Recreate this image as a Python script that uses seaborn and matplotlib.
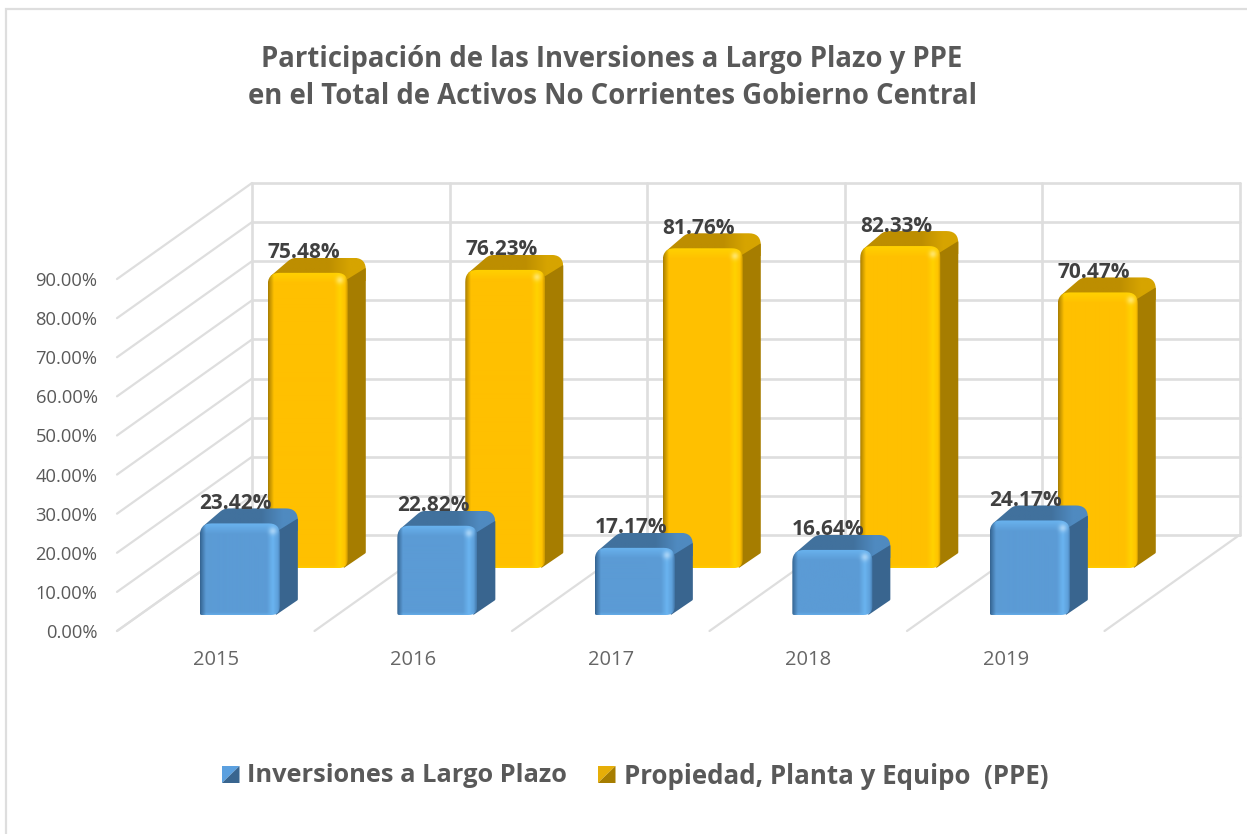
"""
3D look column chart: Inversiones a Largo Plazo vs PPE, Gobierno Central.
"""
import numpy as np
import pandas as pd
import matplotlib
matplotlib.use('Agg')
import matplotlib.pyplot as plt
import seaborn as sns
from matplotlib.patches import Polygon, Rectangle
from matplotlib.ticker import FormatStrFormatter
from matplotlib.transforms import IdentityTransform

years = ['2015', '2016', '2017', '2018', '2019']
inversiones = [23.42, 22.82, 17.17, 16.64, 24.17]
ppe = [75.48, 76.23, 81.76, 82.33, 70.47]
series_names = ['Inversiones a Largo Plazo', 'Propiedad, Planta y Equipo  (PPE)']
y_ticks = [0, 10, 20, 30, 40, 50, 60, 70, 80, 90]
title_lines = ['Participación de las Inversiones a Largo Plazo y PPE',
               'en el Total de Activos No Corrientes Gobierno Central']

W, H = 1247, 834
GRID = '#DEDEDE'
TEXT = '#595959'
# back wall depth, in axis units
WALL_DX = 135 / 197.5
WALL_DY = 96 / 3.91
# how far each series sits inside the box (x units, y units)
SERIES_SHIFT = [(0.122, 4.09), (0.466, 16.1)]
STYLES = [
    dict(base='#5B9BD5', dark='#33628F', light='#6AB4F0', side='#39658F',
         top='#41719D', corner='#4F8AC0', key='#5BA0DF'),
    dict(base='#FFC000', dark='#A67C00', light='#FFD200', side='#A67D00',
         top='#BD8E00', corner='#D6A400', key='#E6AE08'),
]

sns.set_theme(style='white')
plt.rcParams['font.family'] = ['Open Sans', 'DejaVu Sans']


def rgb(c):
    return np.array(matplotlib.colors.to_rgb(c))


def rounded(points, radii):
    # polygon with its corners rounded, radius given per vertex
    points = np.asarray(points, dtype=float)
    out = []
    n = len(points)
    for i in range(n):
        p, a, b = points[i], points[i - 1], points[(i + 1) % n]
        r = radii[i]
        if r == 0:
            out.append(p)
            continue
        p1 = p + (a - p) / np.linalg.norm(a - p) * r
        p2 = p + (b - p) / np.linalg.norm(b - p) * r
        for t in np.linspace(0, 1, 9):
            out.append((1 - t) ** 2 * p1 + 2 * t * (1 - t) * p + t ** 2 * p2)
    return np.array(out)


def front_shading(w, h, st):
    # bevelled face of the column: dark left edge, bright right and top bands
    xp = np.arange(w)[None, :] + 0.5
    yp = np.arange(h)[:, None] + 0.5
    base, dark, light = rgb(st['base']), rgb(st['dark']), rgb(st['light'])
    img = np.ones((h, w, 3)) * base
    mix = lambda im, col, a: im * (1 - a[..., None]) + col * a[..., None]
    img = mix(img, light, np.clip(1 - np.abs(xp - (w - 8)) / 6, 0, 1) * np.ones((h, w)))
    img = mix(img, light, np.clip(1 - yp / 11, 0, 1) * np.ones((h, w)))
    img = mix(img, light, np.clip(1 - (h - yp) / 3, 0, 1) * np.ones((h, w)) * 0.7)
    img = mix(img, dark, np.clip(1 - xp / 6, 0, 1) * np.ones((h, w)))
    img = mix(img, dark, np.clip(1 - (w - xp) / 3, 0, 1) * np.ones((h, w)) * 0.6)
    spot = np.exp(-((xp - (w - 8)) ** 2 + (yp - 8) ** 2) / 14)
    img = mix(img, np.array([1, 1, 1.0]) * 0.5 + light * 0.5, spot * 0.8)
    return np.clip(img, 0, 1)


def draw_column(ax, patch, st, z):
    x0, y0 = ax.transData.transform((patch.get_x(), patch.get_y()))
    x1, y1 = ax.transData.transform((patch.get_x() + patch.get_width(),
                                     patch.get_y() + patch.get_height()))
    dx, dy = 18, 15
    idt = IdentityTransform()
    outline = [(x0 + 3, y1 - 3), (x0 + dx + 6, y1 + dy), (x1 + dx, y1 + dy),
               (x1 + dx, y0 + dy), (x1 - 4, y0)]
    top = Polygon(rounded(outline, [0, 5, 12, 1, 0]), closed=True, fc='none', ec='none',
                  transform=idt, zorder=z, clip_on=False)
    ax.add_patch(top)
    # top face brightens toward its far right corner
    ramp = np.clip((np.linspace(0, 1, 60) - 0.62) / 0.22, 0, 1)[None, :, None]
    grad = rgb(st['top'])[None, None, :] * (1 - ramp) + rgb(st['corner'])[None, None, :] * ramp
    im = ax.imshow(grad, extent=(x0, x1 + dx, y1 - 8, y1 + dy), aspect='auto',
                   transform=idt, zorder=z, interpolation='bilinear')
    im.set_clip_path(top)
    side = [(x1 - 3, y1 - 8), (x1 + dx, y1 + 5), (x1 + dx, y0 + dy), (x1 - 4, y0)]
    ax.add_patch(Polygon(rounded(side, [0, 1, 1, 0]), closed=True, fc=st['side'],
                         ec='none', transform=idt, zorder=z + 0.2, clip_on=False))
    face_pts = [(x0, y0), (x1, y0), (x1, y1), (x0, y1)]
    face = Polygon(rounded(face_pts, [2, 9, 11, 12]), closed=True, fc='none', ec='none',
                   transform=idt, zorder=z + 0.3, clip_on=False)
    ax.add_patch(face)
    w, h = int(round(x1 - x0)), int(round(y1 - y0))
    im = ax.imshow(front_shading(w, h, st), extent=(x0, x1, y0, y1), aspect='auto',
                   transform=idt, zorder=z + 0.3, interpolation='bilinear')
    im.set_clip_path(face)


fig = plt.figure(figsize=(W / 100, H / 100), dpi=100)
ax = fig.add_axes([117 / W, (H - 631) / H, (5 * 197.5 + 135) / W, (631 - 183) / H])

df = pd.DataFrame({
    'year': years * 2,
    'value': inversiones + ppe,
    'series': [series_names[0]] * 5 + [series_names[1]] * 5,
})
sns.barplot(data=df, x='year', y='value', hue='series', hue_order=series_names,
            dodge=False, width=80 / 197.5, legend=False, ax=ax,
            palette=[STYLES[0]['base'], STYLES[1]['base']])

ax.set_xlim(-0.5, 4.5 + WALL_DX)
ax.set_ylim(0, 90 + WALL_DY)
ax.set_xlabel('')
ax.set_ylabel('')
sns.despine(ax=ax, left=True, bottom=True)
ax.patch.set_alpha(0)
ax.set_yticks(y_ticks)
ax.yaxis.set_major_formatter(FormatStrFormatter('%.2f%%'))
ax.tick_params(axis='y', length=0, pad=14, labelsize=13.2, labelcolor=TEXT)
ax.tick_params(axis='x', length=0, pad=14, labelsize=14.5, labelcolor='#666666')

# box: left wall, back wall and floor lines
for v in y_ticks:
    ax.plot([-0.5, -0.5 + WALL_DX], [v, v + WALL_DY], color=GRID, lw=1.6, zorder=1, clip_on=False)
    ax.plot([-0.5 + WALL_DX, 4.5 + WALL_DX], [v + WALL_DY] * 2, color=GRID, lw=1.9, zorder=1, clip_on=False)
for i in range(len(years) + 1):
    ax.plot([i - 0.5 + WALL_DX] * 2, [WALL_DY, 90 + WALL_DY], color=GRID, lw=1.9, zorder=1, clip_on=False)
    ax.plot([i - 0.5, i - 0.5 + WALL_DX], [0, WALL_DY], color=GRID, lw=1.6, zorder=1, clip_on=False)

# seaborn bars are moved into the box, then dressed as 3D columns
bars = list(ax.patches)
n = len(years)
for s, (shift_x, shift_y) in enumerate(SERIES_SHIFT):
    for j in range(n):
        bar = bars[s * n + j]
        bar.set_x(bar.get_x() + shift_x)
        bar.set_y(shift_y)
        bar.set_visible(False)
        draw_column(ax, bar, STYLES[s], 10 - s * 5 + j * 0.5)
        ax.annotate(f'{bar.get_height():.2f}%',
                    (bar.get_x() + bar.get_width() / 2, shift_y + bar.get_height()),
                    xytext=(-4, 20), textcoords='offset pixels', ha='center', va='center',
                    fontsize=15, fontweight='bold', color='#404040', zorder=30,
                    annotation_clip=False)
ax.set_xlim(-0.5, 4.5 + WALL_DX)
ax.set_ylim(0, 90 + WALL_DY)

fig.text(612 / W, 1 - 59 / H, title_lines[0], ha='center', va='center', fontsize=19.8,
         fontweight='bold', color=TEXT)
fig.text(612 / W, 1 - 96 / H, title_lines[1], ha='center', va='center', fontsize=19.8,
         fontweight='bold', color=TEXT)

# legend keys with the same split shading as the columns
for name, st, kx, tx, fs in zip(series_names, STYLES, [222, 598], [247, 624], [18.25, 18.65]):
    ky0, ky1 = H - 783, H - 766
    kx1 = kx + 17.5
    fig.add_artist(Polygon([(kx, ky0), (kx1, ky1), (kx, ky1)], closed=True, fc=st['key'],
                           ec='none', transform=IdentityTransform()))
    fig.add_artist(Polygon([(kx, ky0), (kx1, ky1), (kx1, ky0)], closed=True, fc=st['side'],
                           ec='none', transform=IdentityTransform()))
    fig.text(tx / W, 1 - 776 / H, name, ha='left', va='center', fontsize=fs,
             fontweight='bold', color=TEXT)

# chart frame
fig.add_artist(Rectangle((6 / W, -0.01), 1.1, 1 - 9 / H + 0.01, fc='none', ec=GRID, lw=1.6,
                         transform=fig.transFigure))

fig.savefig('out.png', dpi=100)
